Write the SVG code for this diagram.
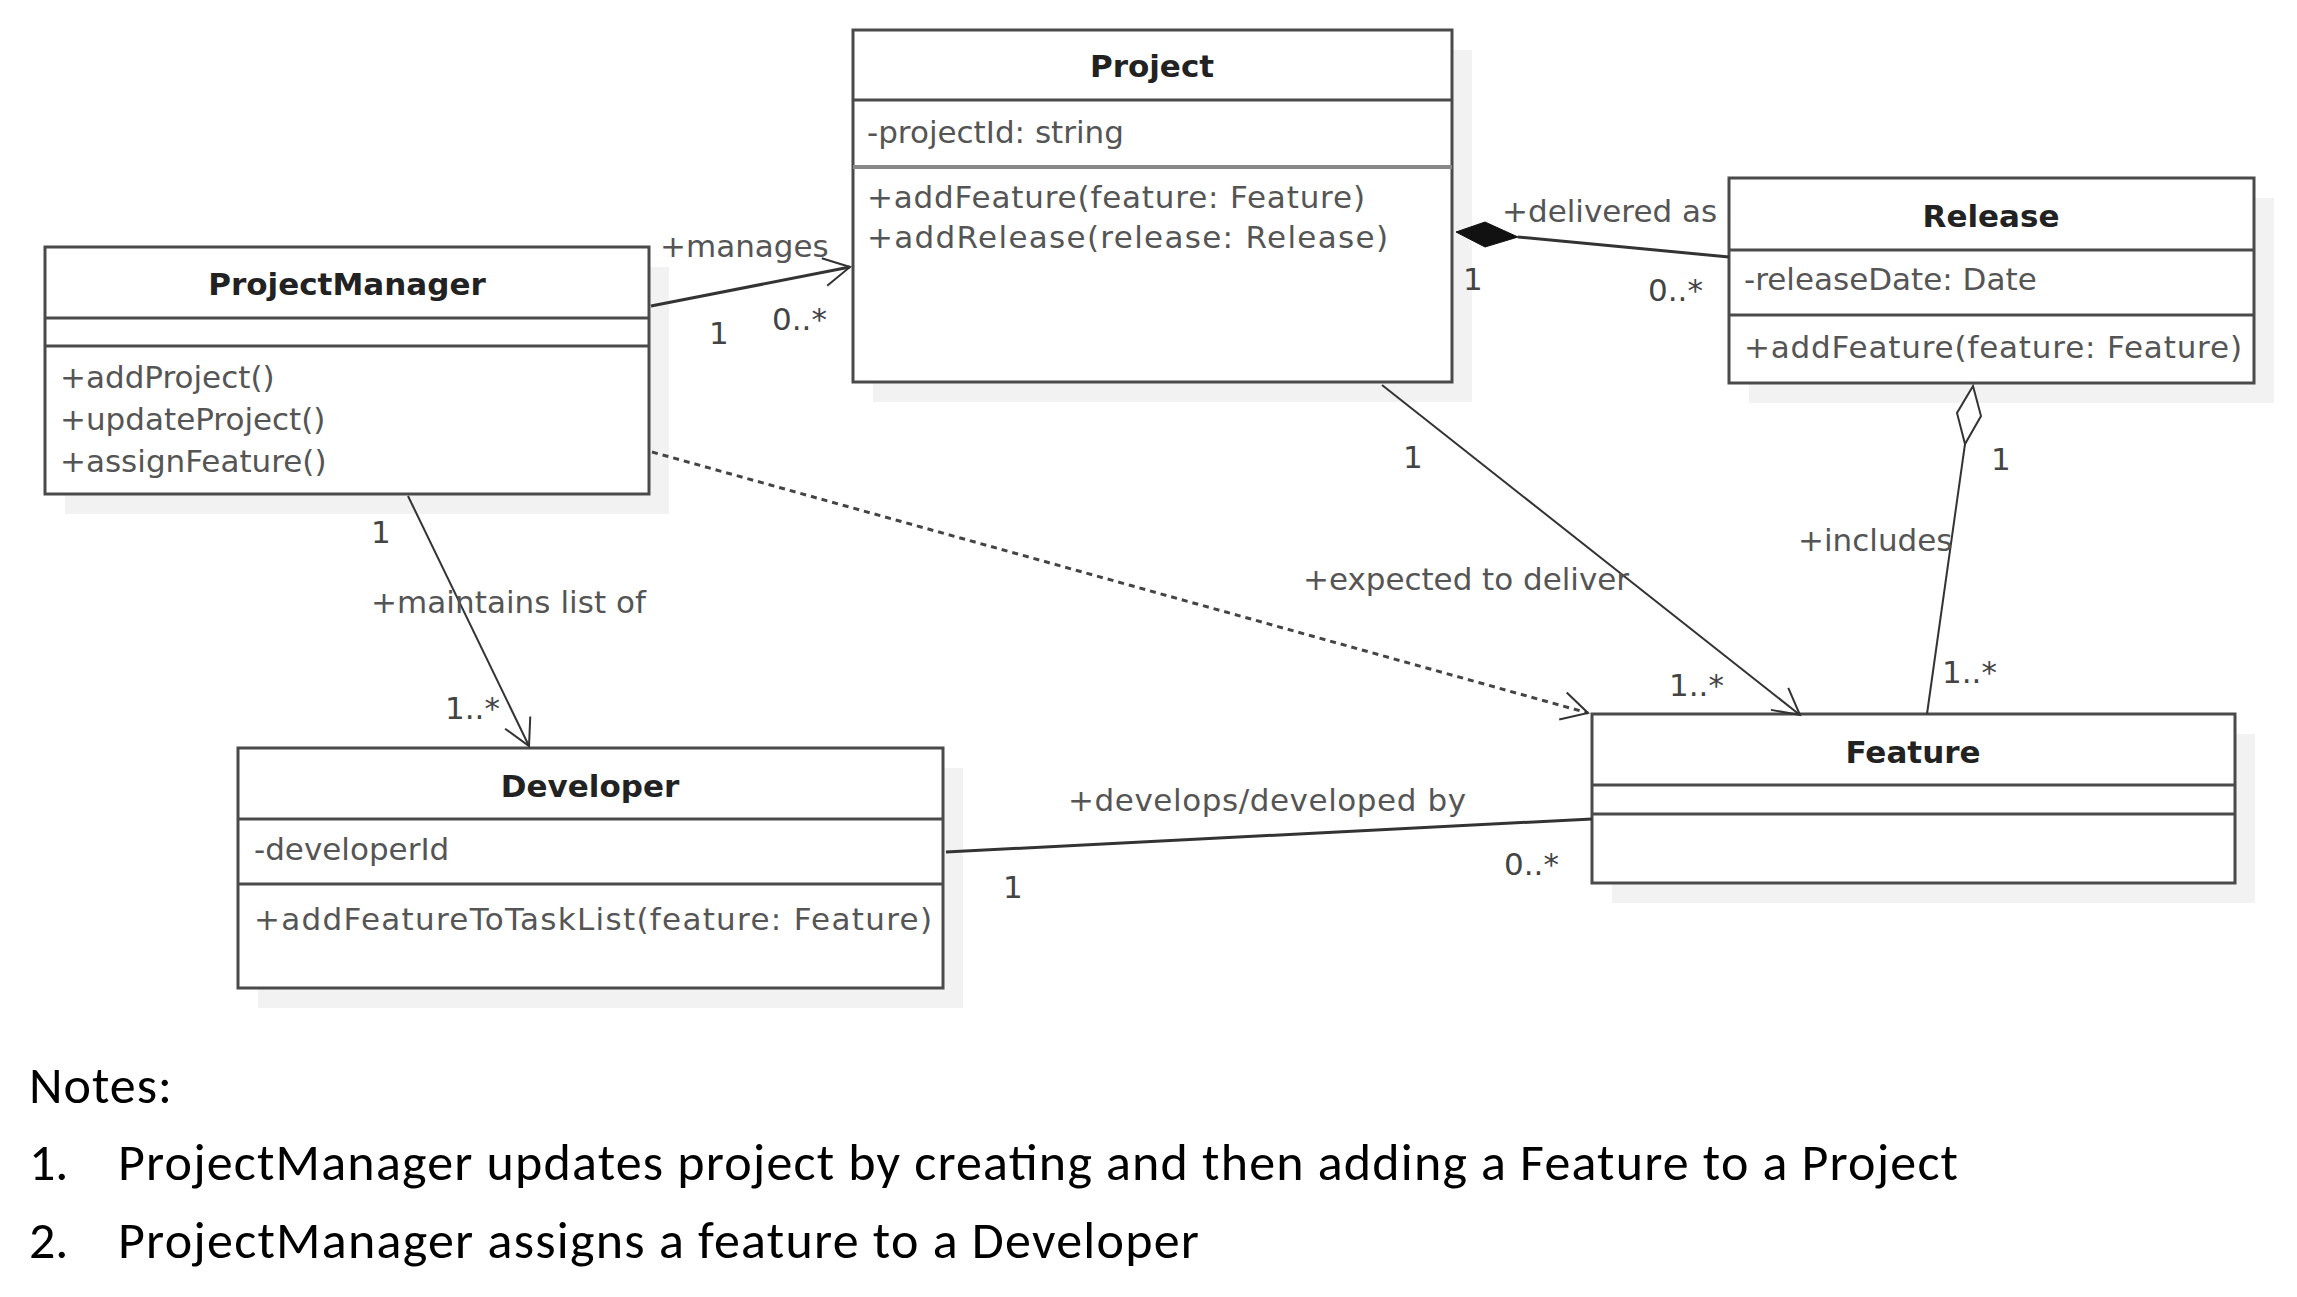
<svg xmlns="http://www.w3.org/2000/svg" width="2297" height="1297" viewBox="0 0 2297 1297">
<style>
.shadow{fill:#f2f2f2;stroke:none}
.box{fill:#fff;stroke:#4a4a4a;stroke-width:3}
.div{stroke:#4a4a4a;stroke-width:3}
.name{font-family:"DejaVu Sans",sans-serif;font-weight:bold;font-size:31px;fill:#222;text-anchor:middle}
.mem{font-family:"DejaVu Sans",sans-serif;font-size:31px;fill:#555}
.lbl{font-family:"DejaVu Sans",sans-serif;font-size:31px;fill:#555}
.mul{font-family:"DejaVu Sans",sans-serif;font-size:31px;fill:#444}
.conn{fill:none;stroke:#333;stroke-width:2}
.thick{stroke-width:3}
.dash{stroke:#444;stroke-width:3;stroke-dasharray:6 5}
.note{font-family:"Carlito","Liberation Sans",sans-serif;font-size:52px;fill:#000}
</style>
<defs>
<marker id="open" markerUnits="userSpaceOnUse" markerWidth="34" markerHeight="34" viewBox="0 0 34 34" refX="30" refY="16" orient="auto">
<path d="M4,2 L30,16 L4,30" fill="none" stroke="#333" stroke-width="2" stroke-dasharray="none"/>
</marker>
</defs>

<g id="ProjectManager">
<rect class="shadow" x="65" y="267" width="604" height="247"/>
<rect class="box" x="45" y="247" width="604" height="247"/>
<line class="div" x1="45" y1="318" x2="649" y2="318"/>
<line class="div" x1="45" y1="346" x2="649" y2="346"/>
<text class="name" x="347" y="295">ProjectManager</text>
<text class="mem" x="60" y="388">+addProject()</text>
<text class="mem" x="60" y="430">+updateProject()</text>
<text class="mem" x="60" y="472">+assignFeature()</text>
</g>

<g id="Project">
<rect class="shadow" x="873" y="50" width="599" height="352"/>
<rect class="box" x="853" y="30" width="599" height="352"/>
<line class="div" x1="853" y1="100" x2="1452" y2="100"/>
<line class="div" x1="853" y1="167" x2="1452" y2="167" style="stroke:#888;stroke-width:4"/>
<text class="name" x="1152" y="77">Project</text>
<text class="mem" x="867" y="143">-projectId: string</text>
<text class="mem" x="867" y="208" textLength="498">+addFeature(feature: Feature)</text>
<text class="mem" x="867" y="248" textLength="521">+addRelease(release: Release)</text>
</g>

<g id="Release">
<rect class="shadow" x="1749" y="198" width="525" height="205"/>
<rect class="box" x="1729" y="178" width="525" height="205"/>
<line class="div" x1="1729" y1="250" x2="2254" y2="250"/>
<line class="div" x1="1729" y1="315" x2="2254" y2="315"/>
<text class="name" x="1991" y="227">Release</text>
<text class="mem" x="1744" y="290">-releaseDate: Date</text>
<text class="mem" x="1744" y="358" textLength="498">+addFeature(feature: Feature)</text>
</g>

<g id="Feature">
<rect class="shadow" x="1612" y="734" width="643" height="169"/>
<rect class="box" x="1592" y="714" width="643" height="169"/>
<line class="div" x1="1592" y1="785" x2="2235" y2="785"/>
<line class="div" x1="1592" y1="814" x2="2235" y2="814"/>
<text class="name" x="1913" y="763">Feature</text>
</g>

<g id="Developer">
<rect class="shadow" x="258" y="768" width="705" height="240"/>
<rect class="box" x="238" y="748" width="705" height="240"/>
<line class="div" x1="238" y1="819" x2="943" y2="819"/>
<line class="div" x1="238" y1="884" x2="943" y2="884"/>
<text class="name" x="590" y="797">Developer</text>
<text class="mem" x="254" y="860">-developerId</text>
<text class="mem" x="254" y="930" textLength="678">+addFeatureToTaskList(feature: Feature)</text>
</g>

<g id="connectors">
<path class="conn thick" d="M651,306 L850,267" marker-end="url(#open)"/>
<polygon points="1456,232 1485,222 1518,237 1485,247" fill="#111" stroke="#111" stroke-width="1"/>
<path class="conn thick" d="M1518,237 L1729,257"/>
<path class="conn" d="M1382,385 L1800,715" marker-end="url(#open)"/>
<polygon points="1973,386 1981,416 1965,444 1957,413" fill="#fff" stroke="#333" stroke-width="2"/>
<path class="conn" d="M1965,444 L1927,714"/>
<path class="conn" d="M408,496 L529,746" marker-end="url(#open)"/>
<path class="conn dash" d="M652,452 L1588,713" marker-end="url(#open)"/>
<path class="conn thick" d="M946,852 L1592,819"/>

<text class="lbl" x="660" y="257">+manages</text>
<text class="mul" x="709" y="344">1</text>
<text class="mul" x="772" y="330">0..*</text>
<text class="lbl" x="1502" y="222">+delivered as</text>
<text class="mul" x="1463" y="290">1</text>
<text class="mul" x="1648" y="301">0..*</text>
<text class="mul" x="1403" y="468">1</text>
<text class="lbl" x="1303" y="590" textLength="326">+expected to deliver</text>
<text class="mul" x="1669" y="696">1..*</text>
<text class="lbl" x="1798" y="551">+includes</text>
<text class="mul" x="1991" y="470">1</text>
<text class="mul" x="1942" y="683">1..*</text>
<text class="mul" x="371" y="543">1</text>
<text class="lbl" x="371" y="613" textLength="275">+maintains list of</text>
<text class="mul" x="445" y="719">1..*</text>
<text class="lbl" x="1068" y="811" textLength="398">+develops/developed by</text>
<text class="mul" x="1504" y="875">0..*</text>
<text class="mul" x="1003" y="898">1</text>
</g>

<g id="notes">
<text class="note" x="29" y="1103" textLength="143">Notes:</text>
<text class="note" x="29" y="1180">1.</text>
<text class="note" x="118" y="1180" textLength="1840">ProjectManager updates project by creating and then adding a Feature to a Project</text>
<text class="note" x="29" y="1258">2.</text>
<text class="note" x="118" y="1258" textLength="1081">ProjectManager assigns a feature to a Developer</text>
</g>
</svg>
